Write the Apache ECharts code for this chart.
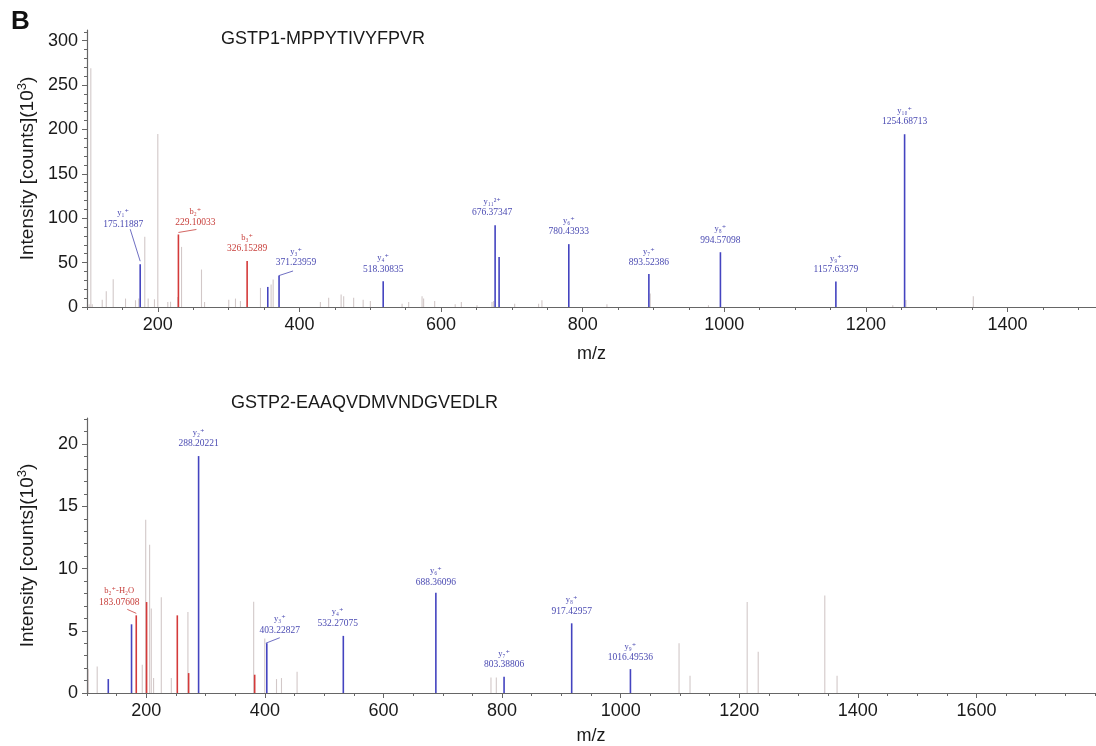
<!DOCTYPE html>
<html><head><meta charset="utf-8">
<script src="https://cdn.jsdelivr.net/npm/echarts@6/dist/echarts.min.js"></script>
<style>html,body{margin:0;padding:0;background:#fff}#c{width:1096px;height:746px}</style>
</head><body><div id="c"></div>
<script>
// ---------------- DATA (intensity in 10^3 counts) ----------------
const panelLetter = 'B';
const topTitle = 'GSTP1-MPPYTIVYFPVR';
const botTitle = 'GSTP2-EAAQVDMVNDGVEDLR';
const yAxisName = 'Intensity [counts](10{s|3})';
const xAxisName = 'm/z';

// Top spectrum: annotated fragment ions
const topIonLabels = ['y₁⁺','b₂⁺','b₃⁺','y₃⁺','y₄⁺','y₁₁²⁺','y₆⁺','y₇⁺','y₈⁺','y₉⁺','y₁₀⁺'];
const topIonMz = [175.11887, 229.10033, 326.15289, 371.23959, 518.30835, 676.37347, 780.43933, 893.52386, 994.57098, 1157.63379, 1254.68713];
const topIonInt = [48.2, 81.7, 51.9, 35.4, 29.0, 92.2, 70.8, 37.2, 61.7, 28.7, 194.6];
const topIonType = ['y','b','b','y','y','y','y','y','y','y','y'];
// Top spectrum: other matched (blue) peaks
const topBlueMz = [355.3, 682.0];
const topBlueInt = [22.6, 56.4];
// Top spectrum: unmatched (grey) peaks
const topGreyMz = [103, 105.4, 107.4, 121.5, 127.2, 137, 154.4, 168.5, 173.2, 181.6, 186.4, 195.3, 200, 214.1, 218, 228.2, 233.5, 261.7, 266, 300.2, 309.7, 316.7, 345, 360, 362.9, 429.6, 441.3, 458.9, 462.5, 476.6, 490, 500.2, 545, 554.3, 573.2, 575.4, 591, 620, 628.7, 650.8, 672, 674.3, 704, 737.8, 742.5, 834.3, 895.4, 977.7, 1238, 1256.5, 1351.7];
const topGreyInt = [3, 269, 3, 8.3, 17.7, 31.3, 9.5, 7.6, 9.5, 79, 9.5, 8.7, 195, 5.6, 6, 11.3, 67.7, 42.2, 5.6, 8.3, 9.5, 6.7, 21.5, 25.3, 30.9, 5.6, 10.5, 14, 12, 10.5, 8.3, 6.7, 3.8, 5.6, 12, 9.5, 6.7, 3, 5.6, 2, 5.6, 6.7, 3.8, 3.8, 7.6, 3, 15.1, 2, 2, 8, 12];

// Bottom spectrum: annotated fragment ions
const botIonLabels = ['b₂⁺-H₂O','y₂⁺','y₃⁺','y₄⁺','y₆⁺','y₇⁺','y₈⁺','y₉⁺'];
const botIonMz = [183.07608, 288.20221, 403.22827, 532.27075, 688.36096, 803.38806, 917.42957, 1016.49536];
const botIonInt = [6.24, 19.04, 4.0, 4.59, 8.05, 1.31, 5.6, 1.92];
const botIonType = ['b','y','y','y','y','y','y','y'];
const botBlueMz = [135.9, 175.1];
const botBlueInt = [1.12, 5.52];
const botRedMz = [200.5, 252.3, 271.4, 382.8];
const botRedInt = [7.31, 6.24, 1.6, 1.47];
const botGreyMz = [102.5, 117.2, 193.2, 199, 205.6, 208.4, 212.3, 225.3, 242.2, 270.2, 381.1, 399.8, 419.6, 428, 454.3, 781.3, 790.3, 1098.5, 1117, 1213.4, 1232, 1344.3, 1365];
const botGreyInt = [1.92, 2.13, 2.27, 13.92, 11.92, 6.8, 1.2, 7.7, 1.2, 6.5, 7.33, 4.37, 1.12, 1.2, 1.7, 1.25, 1.25, 4.0, 1.39, 7.31, 3.31, 7.84, 1.39];

// Tick labels
const topXTicks = [200, 400, 600, 800, 1000, 1200, 1400];
const topYTicks = [0, 50, 100, 150, 200, 250, 300];
const botXTicks = [200, 400, 600, 800, 1000, 1200, 1400, 1600];
const botYTicks = [0, 5, 10, 15, 20];

// ---------------- STYLE ----------------
const BLUE = '#4444c0', RED = '#d43a3a', GREY = '#d2c8c8';
const BLUE_TXT = '#4a4ab2', RED_TXT = '#c8403c';
// label offsets (px) relative to peak top: dx, dy (number centre), optional leader line
const topLabelStyle = [
  {dx:-17, dy:-40, leader:[-10,-35,0,-3]},
  {dx:17, dy:-11.6, leader:[0,-2,18,-5]},
  {dx:0, dy:-12.4},
  {dx:17, dy:-12.6, leader:[0,0,14,-4.6]},
  {dx:0, dy:-12},
  {dx:-3, dy:-12.7},
  {dx:0, dy:-12.3},
  {dx:0, dy:-11.4},
  {dx:0, dy:-12},
  {dx:0, dy:-12},
  {dx:0, dy:-12.6}
];
const botLabelStyle = [
  {dx:-17, dy:-13.3, leader:[-9,-6,0,-2]},
  {dx:0, dy:-12.7},
  {dx:13, dy:-13, leader:[-1,0,13,-5.5]},
  {dx:-5.6, dy:-12.7},
  {dx:0, dy:-10.6},
  {dx:0, dy:-11.7},
  {dx:0, dy:-12.3},
  {dx:0, dy:-11.7}
];

function zip(a, b) { return a.map((v, i) => [v, b[i]]); }
function range(a, b, step) { const r = []; for (let v = a; v <= b + 1e-9; v += step) r.push(Math.round(v * 1000) / 1000); return r; }

function sticks(mz, inten, color, width, ax) {
  return {
    type: 'custom', xAxisIndex: ax, yAxisIndex: ax, silent: true, animation: false,
    data: zip(mz, inten),
    renderItem(params, api) {
      const p0 = api.coord([api.value(0), 0]);
      const p1 = api.coord([api.value(0), api.value(1)]);
      return { type: 'line', shape: {x1: p0[0], y1: p0[1], x2: p1[0], y2: p1[1]},
               style: {stroke: color, lineWidth: width} };
    }
  };
}
function ions(mz, inten, labels, types, styles, ax) {
  return {
    type: 'custom', xAxisIndex: ax, yAxisIndex: ax, silent: true, animation: false,
    data: zip(mz, inten),
    renderItem(params, api) {
      const i = params.dataIndex;
      const m = api.value(0);
      const p0 = api.coord([m, 0]);
      const p = api.coord([m, api.value(1)]);
      const st = styles[i];
      const isB = types[i] === 'b';
      const lc = isB ? RED : BLUE, tc = isB ? RED_TXT : BLUE_TXT;
      const cx = p[0] + st.dx, cy = p[1] + st.dy;
      const kids = [
        {type: 'line', shape: {x1: p0[0], y1: p0[1], x2: p[0], y2: p[1]}, style: {stroke: lc, lineWidth: 1.6}},
        {type: 'text', x: cx, y: cy, style: {text: m.toFixed(5), fill: tc, font: '9.5px "Liberation Serif", "DejaVu Serif", serif', align: 'center', verticalAlign: 'middle'}},
        {type: 'text', x: cx, y: cy - 11, style: {text: labels[i], fill: tc, font: '8.5px "Liberation Serif", "DejaVu Serif", serif', align: 'center', verticalAlign: 'middle'}}
      ];
      if (st.leader) {
        const l = st.leader;
        kids.push({type: 'line', shape: {x1: p[0] + l[0], y1: p[1] + l[1], x2: p[0] + l[2], y2: p[1] + l[3]}, style: {stroke: tc, lineWidth: 0.8}});
      }
      return {type: 'group', children: kids};
    }
  };
}

const AX_COLOR = '#666';
const LBL = {color: '#1a1a1a', fontSize: 18, fontFamily: 'Liberation Sans, Arial, sans-serif'};
function mainX(grid, min, max, ticks) {
  return {type: 'value', gridIndex: grid, position: 'bottom', min, max, name: xAxisName, nameLocation: 'middle', nameGap: grid === 0 ? 38 : 34,
    nameTextStyle: Object.assign({}, LBL, {fontSize: 18}),
    axisLine: {show: true, onZero: false, lineStyle: {color: AX_COLOR, width: 1.2}},
    axisTick: {show: true, length: 5, customValues: ticks, lineStyle: {color: AX_COLOR}},
    axisLabel: Object.assign({customValues: ticks, margin: 9, formatter: v => String(v)}, LBL),
    splitLine: {show: false}};
}
function minorX(grid, min, max, step) {
  return {type: 'value', gridIndex: grid, position: 'bottom', min, max,
    axisLine: {show: false, onZero: false}, axisLabel: {show: false}, splitLine: {show: false},
    axisTick: {show: true, length: 3, customValues: range(min, max, step), lineStyle: {color: AX_COLOR}}};
}
function mainY(grid, min, max, ticks) {
  return {type: 'value', gridIndex: grid, position: 'left', min, max, name: yAxisName, nameLocation: 'middle', nameGap: 48, nameRotate: 90,
    nameTextStyle: Object.assign({}, LBL, {fontSize: 19, rich: {s: {fontSize: 13, padding: [0, 0, 10, 0], color: '#1a1a1a', fontFamily: 'Liberation Sans, Arial, sans-serif'}}}),
    axisLine: {show: true, onZero: false, lineStyle: {color: AX_COLOR, width: 1.2}},
    axisTick: {show: true, length: 5, customValues: ticks, lineStyle: {color: AX_COLOR}},
    axisLabel: Object.assign({customValues: ticks, margin: 9, formatter: v => String(v)}, LBL),
    splitLine: {show: false}};
}
function minorY(grid, min, max, step) {
  return {type: 'value', gridIndex: grid, position: 'left', min, max,
    axisLine: {show: false, onZero: false}, axisLabel: {show: false}, splitLine: {show: false},
    axisTick: {show: true, length: 3, customValues: range(min, max, step), lineStyle: {color: AX_COLOR}}};
}

const chart = echarts.init(document.getElementById('c'), null, {renderer: 'canvas'});
chart.setOption({
  animation: false,
  backgroundColor: '#fff',
  grid: [
    {left: 87, top: 30, width: 1009, height: 277},
    {left: 87, top: 418, width: 1008, height: 276}
  ],
  xAxis: [mainX(0, 100, 1525, topXTicks), mainX(1, 100, 1800, botXTicks), minorX(0, 100, 1525, 50), minorX(1, 100, 1800, 50)],
  yAxis: [mainY(0, 0, 312, topYTicks), mainY(1, 0, 22.1, botYTicks), minorY(0, 0, 312, 10), minorY(1, 0, 22.1, 1)],
  graphic: [
    {type: 'text', left: 11, top: 9, style: {text: panelLetter, font: 'bold 26px "Liberation Sans", Arial, sans-serif', fill: '#111'}},
    {type: 'text', x: 221, y: 39, style: {text: topTitle, font: '18px "Liberation Sans", Arial, sans-serif', fill: '#1a1a1a', verticalAlign: 'middle'}},
    {type: 'text', x: 231, y: 403, style: {text: botTitle, font: '18px "Liberation Sans", Arial, sans-serif', fill: '#1a1a1a', verticalAlign: 'middle'}}
  ],
  series: [
    sticks(topGreyMz, topGreyInt, GREY, 1.1, 0),
    sticks(topBlueMz, topBlueInt, BLUE, 1.6, 0),
    ions(topIonMz, topIonInt, topIonLabels, topIonType, topLabelStyle, 0),
    sticks(botGreyMz, botGreyInt, GREY, 1.1, 1),
    sticks(botRedMz, botRedInt, RED, 1.6, 1),
    sticks(botBlueMz, botBlueInt, BLUE, 1.6, 1),
    ions(botIonMz, botIonInt, botIonLabels, botIonType, botLabelStyle, 1)
  ]
});
</script>
</body></html>
